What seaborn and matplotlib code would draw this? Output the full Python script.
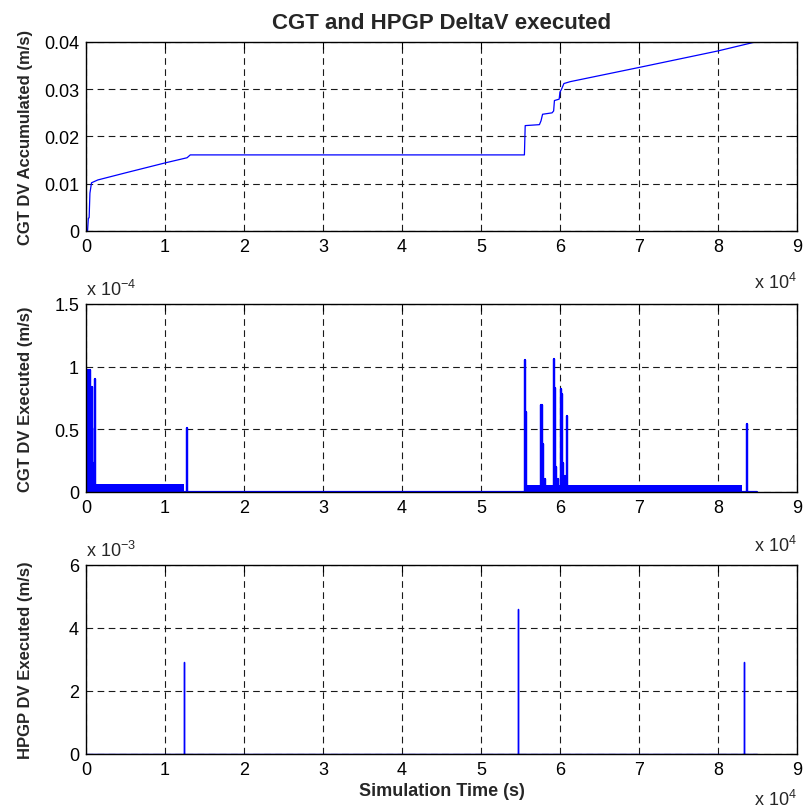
import matplotlib
matplotlib.use("Agg")
import matplotlib.pyplot as plt
import seaborn as sns
import pandas as pd

# CGT accumulated DV (time in 1e4 s, DV in m/s)
acc_t = [0, 0.02, 0.03, 0.04, 0.05, 0.07, 0.15, 0.5, 1.0, 1.28, 1.32, 5.55, 5.56, 5.74, 5.76,
         5.78, 5.90, 5.92, 5.93, 5.99, 6.00, 6.02, 6.05, 6.13, 7.0, 8.0, 8.5]
acc_v = [0, 0, 0.0027, 0.0028, 0.0080, 0.0102, 0.0108, 0.0123, 0.0144, 0.0155, 0.0161, 0.0161,
         0.0223, 0.0225, 0.0233, 0.0247, 0.0250, 0.0254, 0.0276, 0.0279, 0.0294, 0.0300, 0.0312,
         0.0316, 0.0346, 0.0381, 0.0401]

# CGT executed DV spikes (time in 1e4 s, DV in 1e-4 m/s)
cgt_t = [0.03, 0.05, 0.07, 0.08, 0.09, 0.12, 1.28, 5.557, 5.574, 5.76, 5.77, 5.79, 5.81,
         5.92, 5.935, 5.95, 5.975, 6.01, 6.03, 6.04, 6.07, 6.09, 8.37]
cgt_v = [0.97, 0.97, 0.84, 0.51, 0.23, 0.90, 0.51, 1.05, 0.64, 0.69, 0.69, 0.385, 0.10,
         1.06, 0.83, 0.20, 0.10, 0.82, 0.78, 0.23, 0.13, 0.61, 0.54]
# low level noisy firing periods
band_start = [0.12, 5.58]
band_end = [1.24, 8.31]
band_level = [0.06, 0.055]

# HPGP executed DV (time in 1e4 s, DV in 1e-3 m/s)
hpgp_t = [1.24, 5.475, 8.33]
hpgp_v = [2.91, 4.6, 2.91]
t_end = 8.5


def spikes(ts, vs):
    xs, ys = [0], [0]
    for t, v in zip(ts, vs):
        xs += [t, t, t]
        ys += [0, v, 0]
    xs.append(t_end)
    ys.append(0)
    return pd.DataFrame({"t": xs, "v": ys})


sns.set_style("white")
plt.rcParams["font.family"] = ["Liberation Sans", "DejaVu Sans"]
plt.rcParams["mathtext.default"] = "regular"

fig = plt.figure(figsize=(8.05, 8.12), dpi=100)
ax1 = fig.add_axes([0.1068, 0.7143, 0.8832, 0.2328])
ax2 = fig.add_axes([0.1068, 0.3929, 0.8832, 0.2315])
ax3 = fig.add_axes([0.1068, 0.0702, 0.8832, 0.2328])

acc = pd.DataFrame({"t": acc_t, "v": acc_v})
sns.lineplot(data=acc, x="t", y="v", ax=ax1, color="blue", lw=0.9, sort=False, estimator=None)

sns.lineplot(data=spikes(cgt_t, cgt_v), x="t", y="v", ax=ax2, color="blue", lw=1.6,
             sort=False, estimator=None)
for s, e, h in zip(band_start, band_end, band_level):
    ax2.fill_between([s, e], 0, h, color="blue", lw=0)

sns.lineplot(data=spikes(hpgp_t, hpgp_v), x="t", y="v", ax=ax3, color="blue", lw=1.0,
             sort=False, estimator=None)

ylims = [(0, 0.04), (0, 1.5), (0, 6)]
yticks = [[0, 0.01, 0.02, 0.03, 0.04], [0, 0.5, 1, 1.5], [0, 2, 4, 6]]
ytl = [["0", "0.01", "0.02", "0.03", "0.04"], ["0", "0.5", "1", "1.5"], ["0", "2", "4", "6"]]
ylabels = ["CGT DV Accumulated (m/s)", "CGT DV Executed (m/s)", "HPGP DV Executed (m/s)"]
xoff_y = [-0.27, -0.28, -0.24]

for i, ax in enumerate([ax1, ax2, ax3]):
    ax.set_xlim(0, 9)
    ax.set_ylim(*ylims[i])
    ax.set_xticks(range(10))
    ax.set_xticklabels([str(k) for k in range(10)])
    ax.set_yticks(yticks[i])
    ax.set_yticklabels(ytl[i])
    ax.tick_params(direction="in", top=True, right=True, length=5, width=0.8,
                   labelsize=13, colors="black", pad=5)
    ax.grid(True, color="0.1", lw=0.8, ls=(0, (6, 4)))
    for sp in ax.spines.values():
        sp.set_color("black")
        sp.set_linewidth(1.0)
    ax.set_xlabel("")
    ax.set_ylabel(ylabels[i], fontsize=12, fontweight="bold")
    ax.yaxis.set_label_coords(-0.074, 0.5)
    ax.text(1.0, xoff_y[i], r"x 10$^{4}$", transform=ax.transAxes, ha="right", va="center",
            fontsize=13)

ax2.text(0.0, 1.08, r"x 10$^{-4}$", transform=ax2.transAxes, ha="left", va="center", fontsize=13)
ax3.text(0.0, 1.08, r"x 10$^{-3}$", transform=ax3.transAxes, ha="left", va="center", fontsize=13)

ax1.set_title("CGT and HPGP DeltaV executed", fontsize=16, fontweight="bold", pad=10)
ax3.set_xlabel("Simulation Time (s)", fontsize=13, fontweight="bold", labelpad=3)

fig.savefig("out.png", dpi=100)
